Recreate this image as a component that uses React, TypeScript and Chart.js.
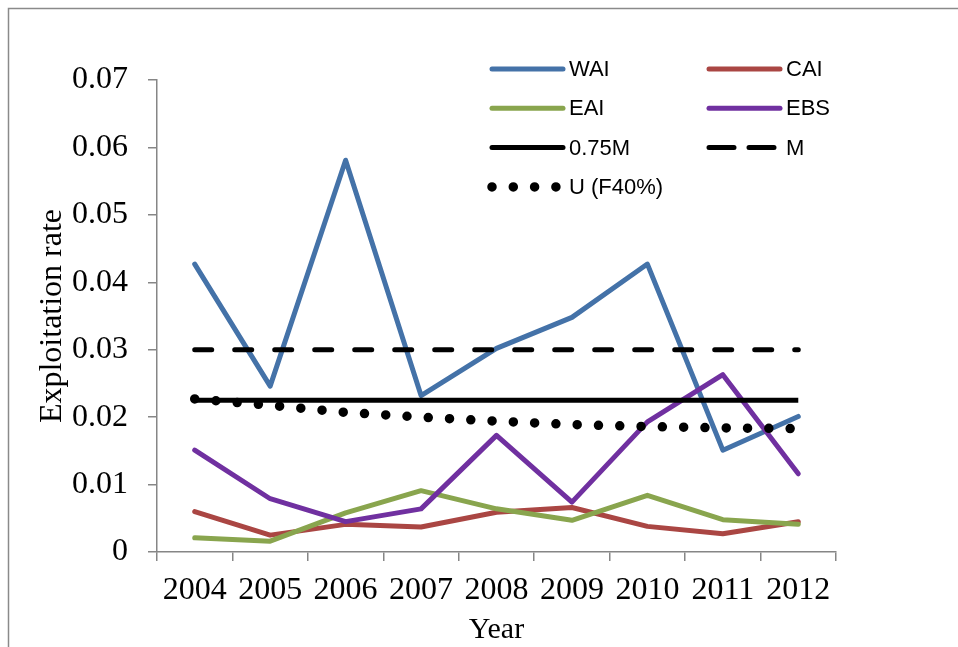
import { useEffect, useRef } from "react";
import { Chart, registerables } from "chart.js";

Chart.register(...registerables);

const years = ["2004", "2005", "2006", "2007", "2008", "2009", "2010", "2011", "2012"];
const wai = [0.0427, 0.0246, 0.0581, 0.0232, 0.0302, 0.0348, 0.0427, 0.0151, 0.0201];
const cai = [0.006, 0.0025, 0.0041, 0.0037, 0.0059, 0.0066, 0.0038, 0.0027, 0.0045];
const eai = [0.0021, 0.0016, 0.0058, 0.0091, 0.0064, 0.0047, 0.0084, 0.0048, 0.0041];
const ebs = [0.0151, 0.0079, 0.0045, 0.0064, 0.0173, 0.0074, 0.0193, 0.0263, 0.0116];
const m75 = [0.0225, 0.0225, 0.0225, 0.0225, 0.0225, 0.0225, 0.0225, 0.0225, 0.0225];
const mRate = [0.03, 0.03, 0.03, 0.03, 0.03, 0.03, 0.03, 0.03, 0.03];
const uF40 = [0.0227, 0.02175, 0.0207, 0.02, 0.0194, 0.0189, 0.0186, 0.0184, 0.0183];

const serif = "'Liberation Serif', 'Times New Roman', serif";
const sans = "'Liberation Sans', Arial, sans-serif";
const axisGray = "#868686";

// legend drawn inside the plot, two columns like the Excel original
const insideLegend = {
  id: "insideLegend",
  afterDraw(chart: Chart) {
    const { ctx, chartArea } = chart;
    ctx.save();
    chart.data.datasets.forEach((ds: any, i: number) => {
      const col = i % 2;
      const row = Math.floor(i / 2);
      const x0 = chartArea.left + (col === 0 ? 335 : 552);
      const y = chartArea.top - 11 + row * 39.3;
      ctx.beginPath();
      ctx.strokeStyle = ds.borderColor;
      ctx.lineWidth = ds.legendWidth ?? ds.borderWidth;
      ctx.lineCap = "round";
      ctx.setLineDash(ds.legendDash ?? ds.borderDash ?? []);
      ctx.moveTo(x0, y);
      ctx.lineTo(x0 + 71, y);
      ctx.stroke();
      ctx.setLineDash([]);
      ctx.fillStyle = "#000";
      ctx.font = `22px ${sans}`;
      ctx.textBaseline = "middle";
      ctx.textAlign = "left";
      ctx.fillText(ds.label, x0 + 77, y + 1);
    });
    ctx.restore();
  },
};

// white background and the grey frame (only top and left edges are in view)
const frame = {
  id: "frame",
  beforeDraw(chart: Chart) {
    const { ctx, width, height } = chart;
    ctx.save();
    ctx.fillStyle = "#fff";
    ctx.fillRect(0, 0, width, height);
    ctx.strokeStyle = "#8a8a8a";
    ctx.lineWidth = 1.5;
    ctx.beginPath();
    ctx.moveTo(8.5, height);
    ctx.lineTo(8.5, 8.5);
    ctx.lineTo(width, 8.5);
    ctx.stroke();
    ctx.restore();
  },
};

function ExploitationChart() {
  const canvasRef = useRef<HTMLCanvasElement>(null);
  const chartRef = useRef<Chart | null>(null);

  useEffect(() => {
    if (!canvasRef.current) return;
    if (chartRef.current) chartRef.current.destroy();

    const line = (label: string, data: number[], color: string, order: number, extra: object = {}) => ({
      label,
      data,
      borderColor: color,
      backgroundColor: color,
      borderWidth: 5,
      borderJoinStyle: "round",
      borderCapStyle: "round",
      pointRadius: 0,
      pointHoverRadius: 0,
      fill: false,
      tension: 0,
      order,
      ...extra,
    });

    chartRef.current = new Chart(canvasRef.current, {
      type: "line",
      data: {
        labels: years,
        datasets: [
          line("WAI", wai, "#4472A8", 7),
          line("CAI", cai, "#AA4643", 6),
          line("EAI", eai, "#89A54E", 5),
          line("EBS", ebs, "#7030A0", 4),
          line("0.75M", m75, "#000000", 3, { borderCapStyle: "butt" }),
          line("M", mRate, "#000000", 2, { borderDash: [17, 23], legendDash: [25, 15] }),
          line("U (F40%)", uF40, "#000000", 1, { borderWidth: 9.5, borderDash: [0, 21.3] }),
        ] as any,
      },
      options: {
        animation: false,
        responsive: true,
        maintainAspectRatio: false,
        layout: { padding: { left: 27, right: 122, top: 80, bottom: 2 } },
        plugins: {
          legend: { display: false },
          tooltip: { enabled: false },
        },
        scales: {
          x: {
            type: "category",
            offset: true,
            afterFit: (scale: any) => {
              scale.height = 93;
            },
            grid: { offset: true, drawOnChartArea: false, tickLength: 9, color: axisGray, lineWidth: 1.5 },
            border: { color: axisGray, width: 1.5 },
            ticks: { color: "#000", font: { family: serif, size: 32 }, padding: 10, autoSkip: false, maxRotation: 0 },
            title: {
              display: true,
              text: "Year",
              color: "#000",
              font: { family: serif, size: 30, lineHeight: 1 },
              padding: 0,
            },
          },
          y: {
            min: 0,
            max: 0.07,
            afterFit: (scale: any) => {
              scale.width = 130;
            },
            grid: { drawOnChartArea: false, tickLength: 9, color: axisGray, lineWidth: 1.5 },
            border: { color: axisGray, width: 1.5 },
            ticks: {
              stepSize: 0.01,
              padding: 20,
              color: "#000",
              font: { family: serif, size: 32 },
              callback: (v: any) => String(Number(Number(v).toFixed(2))),
            },
            title: {
              display: true,
              text: "Exploitation rate",
              color: "#000",
              font: { family: serif, size: 32, lineHeight: 1.2 },
              padding: { top: 6, bottom: 4 },
            },
          },
        },
      },
      plugins: [frame, insideLegend],
    });

    return () => chartRef.current?.destroy();
  }, []);

  return (
    <div style={{ position: "fixed", left: 0, top: 0, width: 958, height: 647 }}>
      <canvas ref={canvasRef} role="img" aria-label="Line chart of exploitation rate by year for WAI, CAI, EAI and EBS" />
    </div>
  );
}

export default function App() {
  return <ExploitationChart />;
}
